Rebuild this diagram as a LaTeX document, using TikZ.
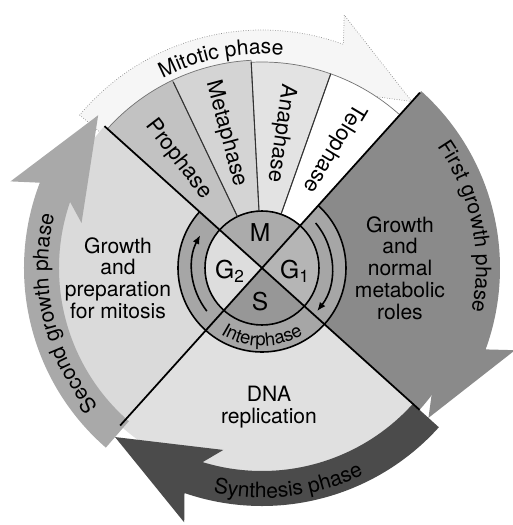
\documentclass[tikz,border=0pt]{standalone}
\usepackage{fontspec}
\setmainfont{TeX Gyre Heros}
\usepackage{tikz}
\usetikzlibrary{arrows.meta,decorations.text}
\definecolor{mitoBand}{HTML}{F6F6F6}
\definecolor{firstGrowth}{HTML}{8A8A8A}
\definecolor{synthBand}{HTML}{4B4B4B}
\definecolor{secondGrowth}{HTML}{A9A9A9}
\definecolor{gTwoSector}{HTML}{DADADA}
\definecolor{sSector}{HTML}{E0E0E0}
\definecolor{prophaseGray}{HTML}{C2C2C2}
\definecolor{metaphaseGray}{HTML}{D4D4D4}
\definecolor{anaphaseGray}{HTML}{E3E3E3}
\definecolor{ringGray}{HTML}{A6A6A6}
\definecolor{quarterM}{HTML}{ABABAB}
\definecolor{quarterGone}{HTML}{B5B5B5}
\definecolor{quarterS}{HTML}{979797}
\definecolor{quarterGtwo}{HTML}{DDDDDD}
\newcommand{\phasefont}{\fontsize{12}{12}\selectfont}
\newcommand{\interfont}{\fontsize{10.5}{10.5}\selectfont}
% start angle, tip angle, fill, extra style
\newcommand{\phasearrow}[4]{%
  \path[fill=#3, #4] (#1:203) -- (#1:238) arc[start angle=#1, end angle=#2+22, radius=238]
    -- (#2+24:266) -- (#2:224) -- (#2+29:186) -- (#2+24:203)
    arc[start angle=#2+24, end angle=#1, radius=203] -- cycle;}

\begin{document}
\begin{tikzpicture}[
    x=0.02cm, y=0.02cm,
    sectorlabel/.style={align=center, font=\fontsize{12}{12.4}\selectfont},
    slicelabel/.style={font=\fontsize{12.5}{13}\selectfont},
    quarterlabel/.style={font=\fontsize{14}{14}\selectfont},
    divline/.style={line width=1pt},
    sliceline/.style={line width=0.6pt, black!80},
    ringarrow/.style={-{Latex[length=5pt,width=4pt]}, line width=0.9pt},
    arclabel/.style={decorate, decoration={text along path, text align=center, text={|\phasefont|#1}}},
    innerlabel/.style={decorate, decoration={text along path, text align=center, text={|\interfont|#1}}}
]
    \useasboundingbox (-262,-257) rectangle (251,268);

    \phasearrow{140}{48}{mitoBand}{draw=black!45, densely dotted, line width=0.4pt}

    \fill[firstGrowth] (0,0) -- (48:212) arc[start angle=48, end angle=-42, radius=212] -- cycle;
    \fill[sSector] (0,0) -- (228:212) arc[start angle=228, end angle=318, radius=212] -- cycle;
    \fill[gTwoSector] (0,0) -- (138:212) arc[start angle=138, end angle=228, radius=212] -- cycle;
    \filldraw[fill=prophaseGray, draw=black!55, line width=0.4pt] (0,0) -- (138:208) arc[start angle=138, end angle=115.5, radius=208] -- cycle;
    \filldraw[fill=metaphaseGray, draw=black!55, line width=0.4pt] (0,0) -- (115.5:208) arc[start angle=115.5, end angle=93, radius=208] -- cycle;
    \filldraw[fill=anaphaseGray, draw=black!55, line width=0.4pt] (0,0) -- (93:206) arc[start angle=93, end angle=70.5, radius=206] -- cycle;
    \filldraw[fill=white, draw=black!55, line width=0.4pt] (0,0) -- (70.5:206) arc[start angle=70.5, end angle=48, radius=206] -- cycle;

    \phasearrow{48}{-42}{firstGrowth}{}
    \phasearrow{318}{229}{synthBand}{}
    \phasearrow{229}{137}{secondGrowth}{}

    \fill[ringGray] (138:84) arc[start angle=138, end angle=408, radius=84] -- (48:57) arc[start angle=48, end angle=-222, radius=57] -- cycle;
    \draw[line width=0.9pt] (138:84) arc[start angle=138, end angle=408, radius=84];
    \fill[quarterM] (0,0) -- (48:57) arc[start angle=48, end angle=138, radius=57] -- cycle;
    \fill[quarterGone] (0,0) -- (-42:57) arc[start angle=-42, end angle=48, radius=57] -- cycle;
    \fill[quarterS] (0,0) -- (228:57) arc[start angle=228, end angle=318, radius=57] -- cycle;
    \fill[quarterGtwo] (0,0) -- (138:57) arc[start angle=138, end angle=228, radius=57] -- cycle;
    \draw[line width=0.9pt] (0,0) circle[radius=57];

    \draw[divline] (0,0) -- (48:236);
    \foreach \a in {138,228,318}
        \draw[divline] (0,0) -- (\a:212);
    \foreach \a in {70.5,93,115.5}
        \draw[sliceline] (\a:57) -- (\a:206);

    \draw[ringarrow] (40:70) arc[start angle=40, end angle=-38, radius=70];
    \draw[ringarrow] (218:70) arc[start angle=218, end angle=152, radius=70];

    \node[quarterlabel] (mq) at (-2,35) {M};
    \node[quarterlabel] (gonq) at (33,-3) {G\textsubscript{1}};
    \node[quarterlabel] (sq) at (-2,-34) {S};
    \node[quarterlabel] (gtwoq) at (-32,-3) {G\textsubscript{2}};

    \node[slicelabel, rotate=-52.5] (prophase) at (127.5:137) {Prophase};
    \node[slicelabel, rotate=-75] (metaphase) at (105:139) {Metaphase};
    \node[slicelabel, rotate=-98] (anaphase) at (82:136) {Anaphase};
    \node[slicelabel, rotate=-121] (telophase) at (59:140) {Telophase};

    \node[sectorlabel] (gtwotext) at (-144,-10) {Growth\\and\\preparation\\for mitosis};
    \node[sectorlabel] (gonetext) at (138,0) {Growth\\and\\normal\\metabolic\\roles};
    \node[sectorlabel] (stext) at (7,-139) {DNA\\replication};

    \path[arclabel=Mitotic phase] (121:214) arc[start angle=121, end angle=81, radius=214];
    \path[arclabel=First growth phase] (42:214) arc[start angle=42, end angle=-19, radius=214];
    \path[arclabel=Second growth phase] (228:214) arc[start angle=228, end angle=158, radius=214];
    \path[arclabel=Synthesis phase] (250:230) arc[start angle=250, end angle=304, radius=230];
    \path[innerlabel=Interphase] (226:78) arc[start angle=226, end angle=314, radius=78];
\end{tikzpicture}
\end{document}
